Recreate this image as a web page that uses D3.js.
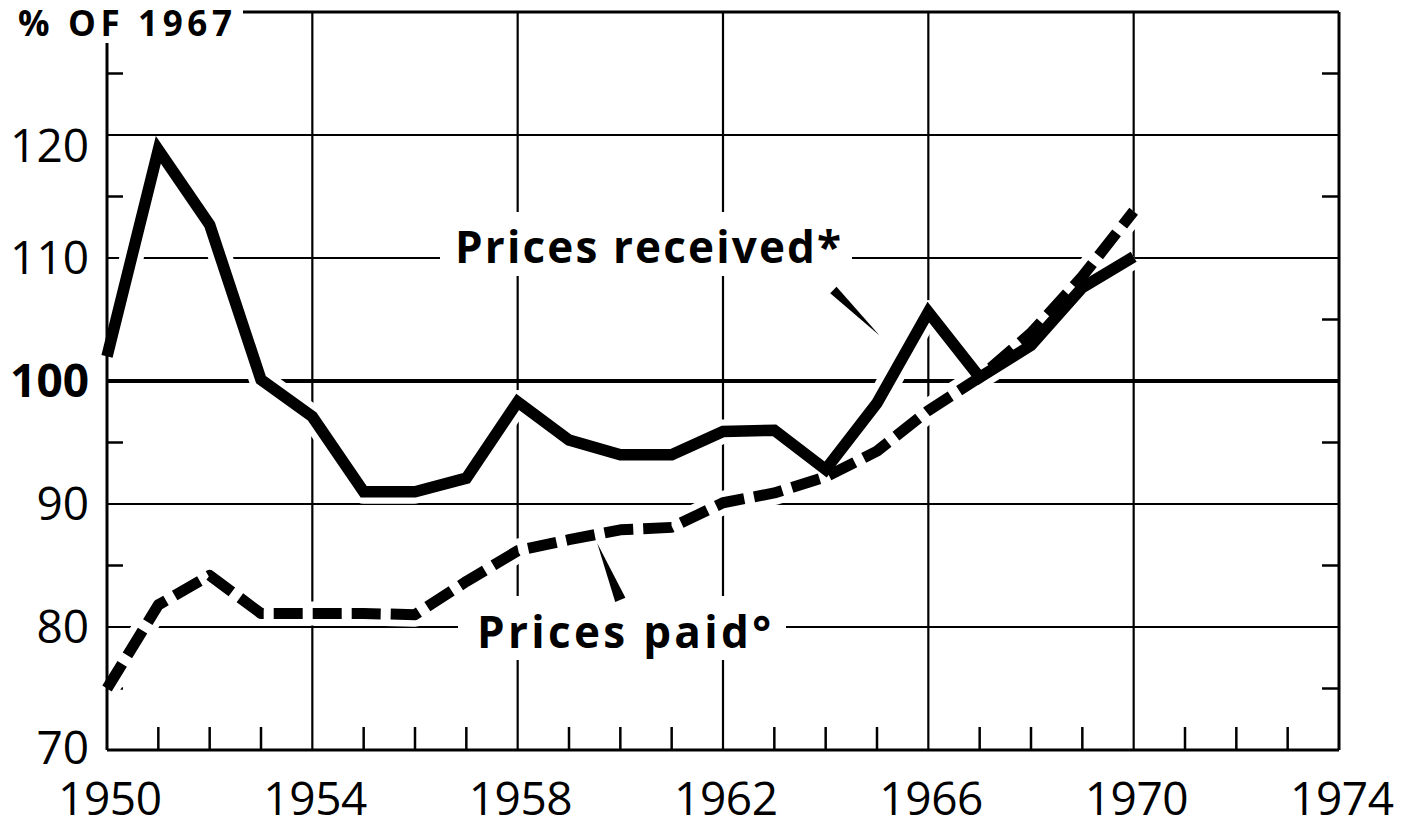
<!DOCTYPE html>
<html lang="en">
<head>
    <title>Prices received and paid, % of 1967</title>
    <script src="https://cdnjs.cloudflare.com/ajax/libs/d3/7.8.5/d3.min.js"></script>
    <style>
        body { margin: 0; background: #fff; }
        svg { display: block; }
        text { font-family: "Open Sans", "DejaVu Sans", sans-serif; fill: #000; }
    </style>
</head>
<body>
    <svg width="1405" height="828"></svg>

    <script>
        // values (% of 1967)
        const years = d3.range(1950, 1971);
        const pricesReceived = [102, 118.8, 112.7, 100.1, 97.1, 91, 91, 92.1, 98.3, 95.2, 94, 94,
                                95.9, 96, 92.8, 98.2, 105.6, 100.3, 102.9, 107.6, 110.1];
        const pricesPaid = [75, 81.8, 84.2, 81.1, 81.1, 81.1, 81, 83.7, 86.2, 87.1, 87.9, 88.1,
                            90.1, 90.9, 92.2, 94.3, 97.6, 100.3, 103.9, 108.5, 113.8];

        const xLabels = [1950, 1954, 1958, 1962, 1966, 1970, 1974];
        const yLabels = [70, 80, 90, 100, 110, 120];
        const yMinor = [75, 85, 95, 105, 115, 125];

        const svg = d3.select("svg");

        const x = d3.scaleLinear().domain([1950, 1974]).range([107, 1339]);
        const y = d3.scaleLinear().domain([70, 130]).range([750, 12]);

        // grid
        const grid = svg.append("g").attr("stroke", "#000");
        grid.selectAll(".hg")
            .data(yLabels.filter(v => v > 70))
            .enter().append("line")
            .attr("x1", x(1950)).attr("x2", x(1974))
            .attr("y1", d => y(d)).attr("y2", d => y(d))
            .attr("stroke-width", d => d === 100 ? 4 : 2.2);

        grid.selectAll(".vg")
            .data(xLabels.filter(v => v > 1950 && v < 1974))
            .enter().append("line")
            .attr("x1", d => x(d)).attr("x2", d => x(d))
            .attr("y1", y(130)).attr("y2", y(70))
            .attr("stroke-width", 2.2);

        // minor ticks
        grid.selectAll(".xt")
            .data(d3.range(1951, 1974).filter(v => (v - 1950) % 4 !== 0))
            .enter().append("line")
            .attr("x1", d => x(d)).attr("x2", d => x(d))
            .attr("y1", y(70)).attr("y2", y(70) - 23)
            .attr("stroke-width", 2.5);

        grid.selectAll(".ytl")
            .data(yMinor)
            .enter().append("line")
            .attr("x1", x(1950)).attr("x2", x(1950) + 16)
            .attr("y1", d => y(d)).attr("y2", d => y(d))
            .attr("stroke-width", 2.5);

        grid.selectAll(".ytr")
            .data(yMinor)
            .enter().append("line")
            .attr("x1", x(1974)).attr("x2", x(1974) - 17)
            .attr("y1", d => y(d)).attr("y2", d => y(d))
            .attr("stroke-width", 2.5);

        const line = d3.line()
            .x((d, i) => x(years[i]))
            .y(d => y(d));

        // white halo so gridlines break around the curves
        [pricesReceived, pricesPaid].forEach(s => {
            svg.append("path")
                .attr("d", line(s))
                .attr("fill", "none")
                .attr("stroke", "#fff")
                .attr("stroke-width", 24)
                .attr("stroke-linejoin", "round");
        });

        // label boxes
        svg.append("rect").attr("x", 440).attr("y", 212).attr("width", 412).attr("height", 64).attr("fill", "#fff");
        svg.append("rect").attr("x", 458).attr("y", 596).attr("width", 328).attr("height", 64).attr("fill", "#fff");

        // frame
        const frame = svg.append("g").attr("stroke", "#000").attr("stroke-width", 3).attr("fill", "none");
        frame.append("line").attr("x1", 243).attr("x2", x(1974)).attr("y1", y(130)).attr("y2", y(130));
        frame.append("line").attr("x1", x(1974)).attr("x2", x(1974)).attr("y1", y(130)).attr("y2", y(70));
        frame.append("line").attr("x1", x(1950)).attr("x2", x(1974)).attr("y1", y(70)).attr("y2", y(70));
        frame.append("line").attr("x1", x(1950)).attr("x2", x(1950)).attr("y1", 43).attr("y2", y(70));

        // data lines
        svg.append("path")
            .attr("d", line(pricesPaid))
            .attr("fill", "none")
            .attr("stroke", "#000")
            .attr("stroke-width", 11)
            .attr("stroke-dasharray", "29,10")
            .attr("stroke-linejoin", "round");

        svg.append("path")
            .attr("d", line(pricesReceived))
            .attr("fill", "none")
            .attr("stroke", "#000")
            .attr("stroke-width", 11.5)
            .attr("stroke-linejoin", "miter");

        // pointer wedges
        function wedge(thick, thin, w) {
            const [x0, y0] = [x(thick[0]), y(thick[1])];
            const [x1, y1] = [x(thin[0]), y(thin[1])];
            const len = Math.hypot(x1 - x0, y1 - y0);
            const nx = -(y1 - y0) / len * w / 2, ny = (x1 - x0) / len * w / 2;
            svg.append("path")
                .attr("d", `M${x0 + nx},${y0 + ny}L${x0 - nx},${y0 - ny}L${x1},${y1}Z`)
                .attr("fill", "#000");
        }
        wedge([1964.15, 107.4], [1965.05, 103.7], 9);
        wedge([1960.0, 82.2], [1959.55, 86.8], 11);

        // texts
        svg.append("text")
            .attr("x", 18).attr("y", 36)
            .attr("font-size", 35).attr("font-weight", 700)
            .attr("textLength", 214).attr("lengthAdjust", "spacing")
            .text("% OF 1967");

        svg.append("text")
            .attr("x", 455).attr("y", 263)
            .attr("font-size", 44).attr("font-weight", 700)
            .attr("textLength", 386).attr("lengthAdjust", "spacing")
            .text("Prices received*");

        svg.append("text")
            .attr("x", 477).attr("y", 648)
            .attr("font-size", 44).attr("font-weight", 700)
            .attr("textLength", 294).attr("lengthAdjust", "spacing")
            .text("Prices paid°");

        svg.selectAll(".xl")
            .data(xLabels)
            .enter().append("text")
            .attr("x", d => x(d) + 3)
            .attr("y", 815)
            .attr("text-anchor", "middle")
            .attr("font-size", 46)
            .attr("textLength", 104).attr("lengthAdjust", "spacing")
            .text(d => d);

        svg.selectAll(".yl")
            .data(yLabels)
            .enter().append("text")
            .attr("x", 89)
            .attr("y", d => y(d) + (d === 120 ? 27 : (d === 70 ? 14 : 16)))
            .attr("text-anchor", "end")
            .attr("font-size", 46)
            .attr("font-weight", d => d === 100 ? 700 : 400)
            .text(d => d);
    </script>
</body>
</html>
